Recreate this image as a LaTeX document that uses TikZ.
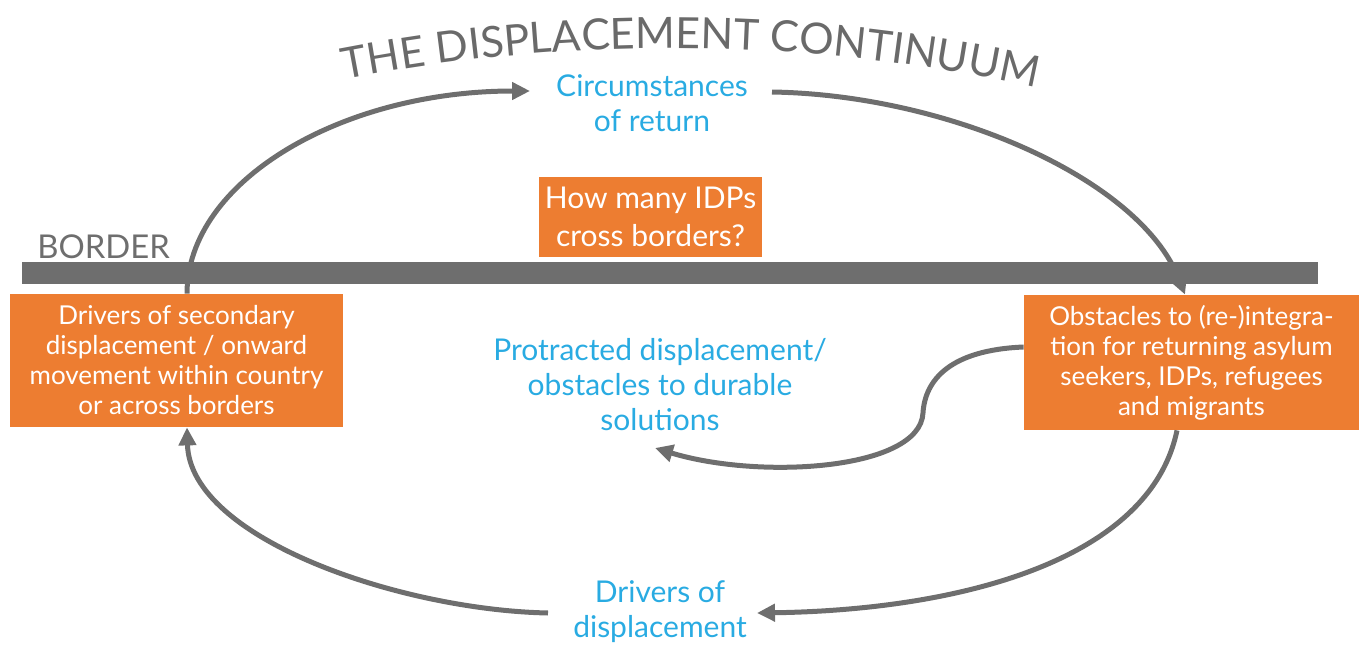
\documentclass[tikz,border=0pt]{standalone}
\usepackage{fontspec}
\usepackage{xcolor}
\usepackage{tikz}
\usetikzlibrary{positioning, arrows.meta, decorations.text}

\newfontfamily\diagfont{Lato}
\definecolor{idporange}{HTML}{ED7D31}
\definecolor{idpblue}{HTML}{29ABE2}
\definecolor{arrowgray}{HTML}{6E6E6E}
\definecolor{titlegray}{HTML}{6A6A6A}

\begin{document}
\begin{tikzpicture}[
    x=0.5pt, y=0.5pt,
    orangebox/.style={fill=idporange, text=white, align=center, inner sep=0pt,
      font=\diagfont\fontsize{13}{15}\selectfont},
    bluetext/.style={text=idpblue, align=center, inner sep=2pt,
      font=\diagfont\fontsize{15}{17.5}\selectfont},
    flowarrow/.style={-{Triangle[length=9pt, width=8.5pt]}, line width=2.5pt, draw=arrowgray}
]
  \useasboundingbox (0,0) rectangle (1362,650);

  % Title on an arc
  \path[decorate, decoration={text along path, text align=center, text color=titlegray,
      text={|\diagfont\fontsize{21.5}{26}\selectfont|THE DISPLACEMENT CONTINUUM}}]
    (670,-1098) ++(103.3:850pt) arc[start angle=103.3, end angle=75.3, radius=850pt];

  % Border
  \node[fill=arrowgray, minimum width=648pt, minimum height=11pt, inner sep=0pt] (border) at (670,377) {};
  \node[anchor=base west, inner sep=0pt, text=arrowgray,
    font=\diagfont\fontsize{16.4}{19}\selectfont] (borderlabel) at (37,392) {BORDER};

  % Nodes
  \node[orangebox, minimum width=111.5pt, minimum height=40pt,
    font=\diagfont\fontsize{15}{19}\selectfont] (howmany) at (650.5,433)
    {How many IDPs\\cross borders?};
  \node[orangebox, minimum width=166.5pt, minimum height=66.5pt] (secondary) at (176.5,289.5)
    {Drivers of secondary\\displacement / onward\\movement within country\\or across borders};
  \node[orangebox, minimum width=167.5pt, minimum height=67.5pt] (obstacles) at (1191.5,287.5)
    {Obstacles to (re-)integra-\\tion for returning asylum\\seekers, IDPs, refugees\\and migrants};
  \node[bluetext] (return) at (652,547) {Circumstances\\of return};
  \node[bluetext] (protracted) at (660,265) {Protracted displacement/\\obstacles to durable\\solutions};
  \node[bluetext] (drivers) at (660,38) {Drivers of\\displacement};

  % Arrows
  \draw[flowarrow] ([xshift=5.25pt]secondary.north) .. controls +(0,112) and +(-189,0) .. (530,559);
  \draw[flowarrow] (772,558) .. controls +(178,-3) and +(-45,115) .. ([xshift=-3.25pt]obstacles.north);
  \draw[flowarrow] ([xshift=-7.25pt]obstacles.south) .. controls +(-27,-130) and +(203,3) .. (757,37);
  \draw[flowarrow] (548,37) .. controls +(-148,3) and +(3,-111) .. ([xshift=5.25pt]secondary.south);
  \draw[flowarrow] ([yshift=7.75pt]obstacles.west) .. controls (950,300) and (925,270) .. (923,237)
    .. controls (920,180) and (760,170) .. (655,202);

\end{tikzpicture}
\end{document}
